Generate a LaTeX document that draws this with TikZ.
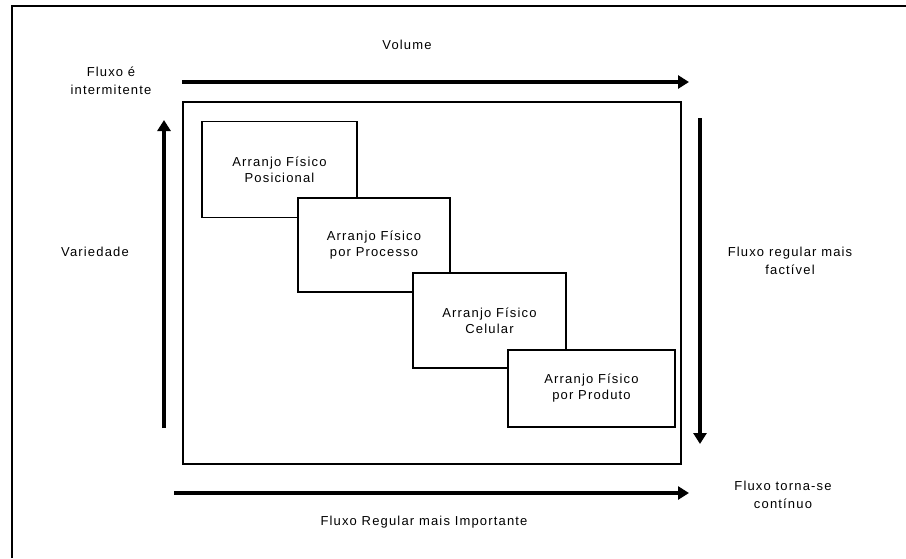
\documentclass[tikz,border=0pt]{standalone}
\usepackage{fontspec}
\setmainfont{Liberation Sans}[LetterSpace=9]
\usetikzlibrary{arrows.meta}
\begin{document}
\begin{tikzpicture}[x=1pt,y=-1pt,
  lbl/.style={align=center,font=\fontsize{13}{18}\selectfont,inner sep=0pt},
  layoutbox/.style={draw,line width=1.6pt,fill=white,align=center,font=\fontsize{13}{16}\selectfont,inner sep=0pt},
  bigarrow/.style={line width=3.6pt,-{Triangle[length=11pt,width=13pt]}},
  frameline/.style={line width=2.6pt}]
\useasboundingbox (0,0) rectangle (906,558);
% outer frame (partially visible)
\coordinate (f1) at (12,558);
\coordinate (f2) at (12,6);
\coordinate (f3) at (906,6);
\draw[frameline] (f1) -- (f2) -- (f3);
% inner box
\node[draw,line width=1.8pt,minimum width=498pt,minimum height=362pt,inner sep=0pt] (inner) at (432,283) {};
% layout boxes
\node[layoutbox,minimum width=155pt,minimum height=96pt] (b1) at (279.5,169.5) {Arranjo Físico\\Posicional};
\node[layoutbox,minimum width=152pt,minimum height=94pt] (b2) at (374,245) {Arranjo Físico\\por Processo};
\node[layoutbox,minimum width=153pt,minimum height=95pt] (b3) at (489.5,320.5) {Arranjo Físico\\Celular};
\node[layoutbox,minimum width=167pt,minimum height=77pt] (b4) at (591.5,388.5) {Arranjo Físico\\por Produto};
% arrows
\coordinate (ta) at (182,82);
\coordinate (tb) at (689,82);
\draw[bigarrow] (ta) -- (tb);
\coordinate (ba) at (174,493);
\coordinate (bb) at (689,493);
\draw[bigarrow] (ba) -- (bb);
\coordinate (la) at (164,428);
\coordinate (lb) at (164,120);
\draw[bigarrow] (la) -- (lb);
\coordinate (ra) at (700,118);
\coordinate (rb) at (700,444);
\draw[bigarrow] (ra) -- (rb);
% labels
\node[lbl] (vol) at (407,45) {Volume};
\node[lbl] (fi) at (111,81) {Fluxo é\\intermitente};
\node[lbl] (var) at (95,252) {Variedade};
\node[lbl] (frm) at (790,261) {Fluxo regular mais\\factível};
\node[lbl] (ftc) at (783,495) {Fluxo torna-se\\contínuo};
\node[lbl] (fri) at (424,522) {Fluxo Regular mais Importante};
\end{tikzpicture}
\end{document}
